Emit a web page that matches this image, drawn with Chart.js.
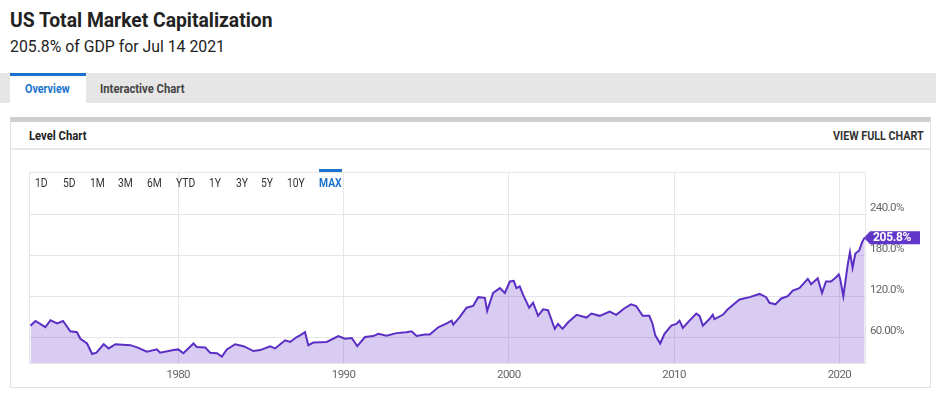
<!DOCTYPE html>
<html>
<head>
<meta charset="utf-8">
<script src="https://cdn.jsdelivr.net/npm/chart.js@4.4.1/dist/chart.umd.min.js"></script>
<style>
  body { margin: 0; width: 936px; height: 396px; background: #fff; font-family: Roboto, sans-serif; position: relative; overflow: hidden; }
  .t { position: absolute; white-space: nowrap; transform-origin: left center; transform: scaleX(0.86); }
  .box { position: absolute; box-sizing: border-box; }
</style>
</head>
<body>
<div class="t" style="left:10px;top:8px;font-size:20px;line-height:24px;font-weight:700;color:#222;transform:scaleX(0.965);">US Total Market Capitalization</div>
<div class="t" style="left:10px;top:36px;font-size:17px;line-height:20px;color:#222;transform:scaleX(0.93);">205.8% of GDP for Jul 14 2021</div>

<div class="box" style="left:0;top:73px;width:936px;height:30px;background:#e6e6e6;"></div>
<div class="box" style="left:10px;top:73px;width:76px;height:30px;background:#fff;border-top:3px solid #1a73cc;"></div>
<div class="t" style="left:25px;top:82px;font-size:12.5px;line-height:14px;font-weight:700;color:#1a73cc;">Overview</div>
<div class="t" style="left:100px;top:82px;font-size:12.5px;line-height:14px;font-weight:700;color:#444;transform:scaleX(0.9);">Interactive Chart</div>

<div class="box" style="left:10px;top:117px;width:921px;height:271px;border:1px solid #e2e2e2;border-top:5px solid #cfcfcf;"></div>
<div class="box" style="left:11px;top:148px;width:919px;height:2px;background:#e8e8e8;"></div>
<div class="t" style="left:29px;top:129px;font-size:12.5px;line-height:14px;font-weight:700;color:#222;transform:scaleX(0.9);">Level Chart</div>
<div class="t" style="left:833px;top:129px;font-size:12.5px;line-height:14px;font-weight:700;color:#333;">VIEW FULL CHART</div>

<canvas id="chart" width="911" height="228" style="position:absolute;left:20px;top:160px;width:911px;height:228px;"></canvas>

<div id="ranges"></div>
<div class="box" style="left:319px;top:169px;width:23px;height:3px;background:#1a73cc;"></div>

<script>
// Range buttons
const rangeLabels = ["1D", "5D", "1M", "3M", "6M", "YTD", "1Y", "3Y", "5Y", "10Y", "MAX"];
const rangeLefts = [35, 63, 90, 118, 147, 176, 209, 236, 261, 287, 319];
const rangesDiv = document.getElementById("ranges");
rangeLabels.forEach((label, i) => {
  const el = document.createElement("div");
  el.className = "t";
  el.textContent = label;
  const active = label === "MAX";
  el.style.cssText = `left:${rangeLefts[i]}px;top:176px;font-size:12px;line-height:14px;color:${active ? "#1a73cc" : "#333"};font-weight:${active ? 700 : 400};`;
  rangesDiv.appendChild(el);
});

// Data (market cap as % of GDP)
const years = [
  1971.06, 1971.36, 1971.96, 1972.27, 1972.67, 1973.03, 1973.47, 1973.87, 1974.08, 1974.48,
  1974.79, 1975.05, 1975.49, 1975.79, 1976.2, 1977.1, 1977.51, 1978.1, 1978.71, 1978.9,
  1979.71, 1980.0, 1980.31, 1980.92, 1981.12, 1981.63, 1981.93, 1982.34, 1982.64, 1982.94,
  1983.44, 1983.95, 1984.55, 1984.96, 1985.56, 1985.86, 1986.17, 1986.47, 1986.77, 1987.17,
  1987.37, 1987.67, 1987.87, 1988.17, 1988.98, 1989.69, 1990.09, 1990.5, 1990.83, 1991.3,
  1991.8, 1992.1, 1992.6, 1993.2, 1993.8, 1994.12, 1994.42, 1994.92, 1995.22, 1995.73,
  1996.24, 1996.54, 1996.64, 1997.04, 1997.44, 1997.84, 1998.15, 1998.55, 1998.69, 1999.05,
  1999.46, 1999.76, 2000.06, 2000.3, 2000.46, 2000.66, 2000.86, 2001.23, 2001.47, 2001.77,
  2002.07, 2002.37, 2002.78, 2002.98, 2003.25, 2003.59, 2004.1, 2004.7, 2005.0, 2005.5,
  2006.1, 2006.5, 2007.0, 2007.4, 2007.7, 2008.1, 2008.5, 2008.7, 2008.86, 2009.16,
  2009.42, 2009.83, 2010.13, 2010.33, 2010.53, 2010.93, 2011.34, 2011.54, 2011.74, 2012.14,
  2012.34, 2012.44, 2012.95, 2013.25, 2013.96, 2014.57, 2015.17, 2015.57, 2015.77, 2016.13,
  2016.48, 2016.88, 2017.18, 2017.58, 2018.09, 2018.29, 2018.69, 2018.95, 2019.19, 2019.49,
  2019.7, 2019.96, 2020.04, 2020.24, 2020.5, 2020.64, 2020.8, 2020.96, 2021.2, 2021.37,
  2021.53
];
const values = [
  77, 84, 75, 85, 80.5, 84, 69, 67.6, 58, 51,
  35.7, 37.5, 50, 43.8, 50, 48.6, 45.3, 39, 42.4, 37.5,
  41.4, 42.4, 36.7, 51, 46, 45.3, 37.5, 36.7, 31.8, 42.4,
  50, 47.1, 40, 41.4, 47, 43.8, 50, 55.7, 53.3, 60.5,
  62.9, 67.6, 48.6, 52.4, 53.3, 61.9, 58, 59, 47.1, 60.5,
  61.9, 65.3, 62.5, 66.2, 67.6, 69, 62, 64.3, 64.3, 74.8,
  80.5, 84.4, 78.6, 90, 103.4, 105.9, 118.8, 117.8, 98.7, 125,
  132, 125, 141.7, 142.7, 132, 134.5, 122.6, 103.4, 110.6, 91.5,
  101, 99.7, 72.5, 79.6, 72.5, 82, 93, 89, 94.8, 91.5,
  97.7, 93, 102.6, 108.3, 105.9, 91.5, 91.5, 79.6, 62.9, 51,
  65.3, 77.2, 79.6, 84.4, 73.9, 84.4, 94.8, 91.5, 77.2, 86.8,
  93, 86.8, 93, 101, 115.4, 118.8, 123.5, 118.8, 110.6, 108.3,
  116.9, 120.2, 128.4, 132, 145.6, 137.8, 146.4, 125, 141.7, 141.7,
  145.6, 152, 146.4, 120.2, 165.6, 184.7, 161.7, 182.2, 187, 199,
  205.8
];
const xTicks = [1980, 1990, 2000, 2010, 2020];
const yTicks = [60, 120, 180, 240];
const yTickLabels = ["60.00%", "120.0%", "180.0%", "240.0%"];
const lastLabel = "205.8%";

const purple = "#5b2ec4";
const gridColor = "#e6e6e6";

// Plot frame
const framePlugin = {
  id: "frame",
  beforeDraw(chart) {
    chart.ctx.letterSpacing = "-0.6px";
  },
  beforeDatasetsDraw(chart) {
    const { ctx, chartArea: a } = chart;
    ctx.save();
    ctx.strokeStyle = gridColor;
    ctx.lineWidth = 1;
    ctx.strokeRect(a.left - 0.5, a.top + 0.5, a.right - a.left + 1, a.bottom - a.top);
    ctx.restore();
  },
};

// Last value badge
const badgePlugin = {
  id: "badge",
  afterDraw(chart) {
    const { ctx, chartArea: a } = chart;
    const meta = chart.getDatasetMeta(0);
    const pt = meta.data[meta.data.length - 1];
    const x = a.right;
    const y = pt.y;
    ctx.save();
    ctx.fillStyle = "#6236c8";
    ctx.beginPath();
    ctx.moveTo(x - 1, y);
    ctx.lineTo(x + 5, y - 6.5);
    ctx.lineTo(x + 55, y - 6.5);
    ctx.lineTo(x + 55, y + 6.5);
    ctx.lineTo(x + 5, y + 6.5);
    ctx.closePath();
    ctx.fill();
    ctx.fillStyle = "#fff";
    ctx.font = "bold 12px Roboto";
    ctx.letterSpacing = "-0.3px";
    ctx.textBaseline = "middle";
    ctx.textAlign = "left";
    ctx.fillText(lastLabel, x + 8, y + 0.5);
    ctx.restore();
  },
};

const points = years.map((yr, i) => ({ x: yr, y: values[i] }));

new Chart(document.getElementById("chart"), {
  type: "line",
  data: {
    datasets: [
      {
        data: points,
        borderColor: purple,
        borderWidth: 2,
        backgroundColor: "rgba(102, 51, 204, 0.25)",
        fill: "start",
        pointRadius: 0,
        tension: 0,
      },
    ],
  },
  options: {
    responsive: false,
    animation: false,
    devicePixelRatio: 1,
    layout: { padding: { left: 10, top: 8, right: 0, bottom: 0 } },
    plugins: { legend: { display: false }, tooltip: { enabled: false } },
    scales: {
      x: {
        type: "linear",
        min: 1971.03,
        max: 2021.55,
        afterBuildTicks: (scale) => { scale.ticks = xTicks.map((v) => ({ value: v })); },
        afterFit: (scale) => { scale.height = 25; },
        grid: { color: gridColor, drawTicks: false },
        border: { display: false },
        ticks: {
          color: "#666",
          font: { family: "Roboto", size: 11.5 },
          padding: 5,
          maxRotation: 0,
          autoSkip: false,
          callback: (v) => String(v),
        },
      },
      y: {
        position: "right",
        min: 22.5,
        max: 302,
        afterBuildTicks: (scale) => { scale.ticks = yTicks.map((v) => ({ value: v })); },
        afterFit: (scale) => { scale.width = 66; },
        grid: { color: gridColor, drawTicks: false },
        border: { display: false },
        ticks: {
          color: "#666",
          font: { family: "Roboto", size: 11.5 },
          padding: 5,
          labelOffset: -6,
          callback: (v) => yTickLabels[yTicks.indexOf(v)],
        },
      },
    },
  },
  plugins: [framePlugin, badgePlugin],
});
</script>
</body>
</html>
